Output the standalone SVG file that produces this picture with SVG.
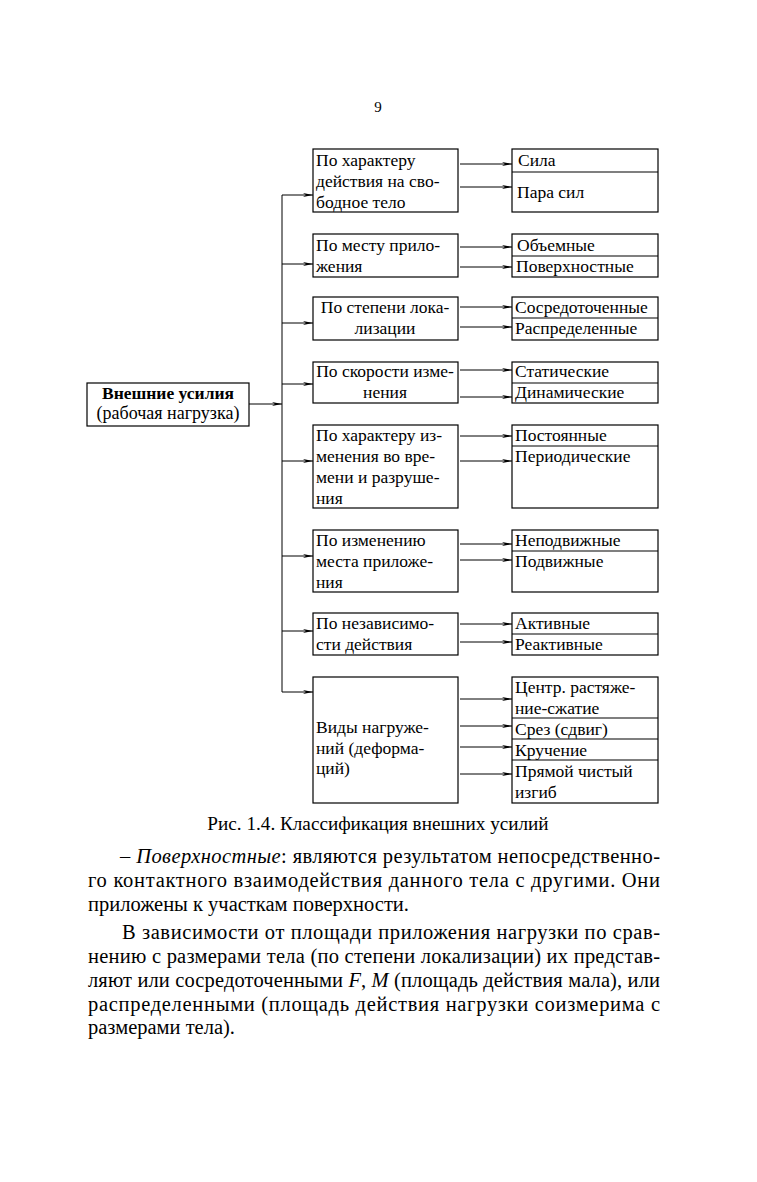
<svg xmlns="http://www.w3.org/2000/svg" width="757" height="1182" viewBox="0 0 757 1182" font-family="'Liberation Serif', 'Times New Roman', serif">
<style>
.d{font-size:17.5px}
.b{font-size:20.5px}
.box{fill:#fff;stroke:#000;stroke-width:1.2}
.dv{stroke:#000;stroke-width:1.2}
.c{stroke:#000;stroke-width:1;fill:none}
.m{text-anchor:middle}
</style>
<defs>
<marker id="ah" markerWidth="10" markerHeight="5" refX="10" refY="2.5" orient="auto" markerUnits="userSpaceOnUse">
<path d="M0,0.6 L10,2.5 L0,4.4 L3,2.5 Z" fill="#000"/>
</marker>
</defs>
<rect width="757" height="1182" fill="#fff"/>
<text x="378" y="112" class="m" font-size="15">9</text>

<g id="connectors">
<line class="c" x1="249" y1="404" x2="282" y2="404" marker-end="url(#ah)"/>
<line class="c" x1="282" y1="195" x2="282" y2="692"/>
<line class="c" x1="282" y1="195" x2="313" y2="195" marker-end="url(#ah)"/>
<line class="c" x1="282" y1="264" x2="313" y2="264" marker-end="url(#ah)"/>
<line class="c" x1="282" y1="323" x2="313" y2="323" marker-end="url(#ah)"/>
<line class="c" x1="282" y1="384" x2="313" y2="384" marker-end="url(#ah)"/>
<line class="c" x1="282" y1="461" x2="313" y2="461" marker-end="url(#ah)"/>
<line class="c" x1="282" y1="556" x2="313" y2="556" marker-end="url(#ah)"/>
<line class="c" x1="282" y1="631" x2="313" y2="631" marker-end="url(#ah)"/>
<line class="c" x1="282" y1="692" x2="313" y2="692" marker-end="url(#ah)"/>
<line class="c" x1="460" y1="164" x2="512" y2="164" marker-end="url(#ah)"/>
<line class="c" x1="460" y1="187" x2="512" y2="187" marker-end="url(#ah)"/>
<line class="c" x1="460" y1="247" x2="512" y2="247" marker-end="url(#ah)"/>
<line class="c" x1="460" y1="267" x2="512" y2="267" marker-end="url(#ah)"/>
<line class="c" x1="460" y1="307" x2="512" y2="307" marker-end="url(#ah)"/>
<line class="c" x1="460" y1="327" x2="512" y2="327" marker-end="url(#ah)"/>
<line class="c" x1="460" y1="370" x2="512" y2="370" marker-end="url(#ah)"/>
<line class="c" x1="460" y1="397" x2="512" y2="397" marker-end="url(#ah)"/>
<line class="c" x1="460" y1="436" x2="512" y2="436" marker-end="url(#ah)"/>
<line class="c" x1="460" y1="461" x2="512" y2="461" marker-end="url(#ah)"/>
<line class="c" x1="460" y1="544" x2="512" y2="544" marker-end="url(#ah)"/>
<line class="c" x1="460" y1="560" x2="512" y2="560" marker-end="url(#ah)"/>
<line class="c" x1="460" y1="624" x2="512" y2="624" marker-end="url(#ah)"/>
<line class="c" x1="460" y1="642" x2="512" y2="642" marker-end="url(#ah)"/>
<line class="c" x1="460" y1="699" x2="512" y2="699" marker-end="url(#ah)"/>
<line class="c" x1="460" y1="726" x2="512" y2="726" marker-end="url(#ah)"/>
<line class="c" x1="460" y1="747" x2="512" y2="747" marker-end="url(#ah)"/>
<line class="c" x1="460" y1="774" x2="512" y2="774" marker-end="url(#ah)"/>
</g>

<g id="root">
<rect class="box" x="87" y="383" width="162" height="43"/>
<text x="168" y="399" class="d m" font-weight="bold">Внешние усилия</text>
<text x="168" y="419" class="m" font-size="18">(рабочая нагрузка)</text>
</g>

<g id="n1">
<rect class="box" x="313" y="149" width="145" height="63"/>
<text class="d" x="316" y="166">По характеру</text>
<text class="d" x="316" y="187">действия на сво-</text>
<text class="d" x="316" y="208">бодное тело</text>
</g>
<g id="n1r">
<rect class="box" x="512" y="149" width="146" height="63"/>
<line class="dv" x1="512" y1="172" x2="658" y2="172"/>
<text class="d" x="518" y="166">Сила</text>
<text class="d" x="517" y="198">Пара сил</text>
</g>

<g id="n2">
<rect class="box" x="313" y="234" width="145" height="43"/>
<text class="d" x="316" y="251">По месту прило-</text>
<text class="d" x="316" y="272">жения</text>
</g>
<g id="n2r">
<rect class="box" x="512" y="234" width="146" height="43"/>
<line class="dv" x1="512" y1="256" x2="658" y2="256"/>
<text class="d" x="517" y="251">Объемные</text>
<text class="d" x="516" y="272">Поверхностные</text>
</g>

<g id="n3">
<rect class="box" x="313" y="297" width="145" height="43"/>
<text class="d m" x="385" y="313">По степени лока-</text>
<text class="d m" x="385" y="334">лизации</text>
</g>
<g id="n3r">
<rect class="box" x="512" y="297" width="146" height="43"/>
<line class="dv" x1="512" y1="318" x2="658" y2="318"/>
<text class="d" x="515" y="313">Сосредоточенные</text>
<text class="d" x="515" y="334">Распределенные</text>
</g>

<g id="n4">
<rect class="box" x="313" y="362" width="145" height="41"/>
<text class="d m" x="385" y="377">По скорости изме-</text>
<text class="d m" x="385" y="398">нения</text>
</g>
<g id="n4r">
<rect class="box" x="512" y="362" width="146" height="41"/>
<line class="dv" x1="512" y1="383" x2="658" y2="383"/>
<text class="d" x="515" y="377">Статические</text>
<text class="d" x="515" y="398">Динамические</text>
</g>

<g id="n5">
<rect class="box" x="313" y="425" width="145" height="83"/>
<text class="d" x="316" y="441">По характеру из-</text>
<text class="d" x="316" y="462">менения во вре-</text>
<text class="d" x="316" y="483">мени и разруше-</text>
<text class="d" x="316" y="504">ния</text>
</g>
<g id="n5r">
<rect class="box" x="512" y="425" width="146" height="83"/>
<line class="dv" x1="512" y1="446" x2="658" y2="446"/>
<text class="d" x="515" y="441">Постоянные</text>
<text class="d" x="515" y="462">Периодические</text>
</g>

<g id="n6">
<rect class="box" x="313" y="530" width="145" height="62"/>
<text class="d" x="316" y="546">По изменению</text>
<text class="d" x="316" y="567">места приложе-</text>
<text class="d" x="316" y="588">ния</text>
</g>
<g id="n6r">
<rect class="box" x="512" y="530" width="146" height="62"/>
<line class="dv" x1="512" y1="551" x2="658" y2="551"/>
<text class="d" x="515" y="546">Неподвижные</text>
<text class="d" x="515" y="567">Подвижные</text>
</g>

<g id="n7">
<rect class="box" x="313" y="613" width="145" height="42"/>
<text class="d" x="316" y="629">По независимо-</text>
<text class="d" x="316" y="650">сти действия</text>
</g>
<g id="n7r">
<rect class="box" x="512" y="613" width="146" height="42"/>
<line class="dv" x1="512" y1="634" x2="658" y2="634"/>
<text class="d" x="515" y="629">Активные</text>
<text class="d" x="515" y="650">Реактивные</text>
</g>

<g id="n8">
<rect class="box" x="313" y="677" width="145" height="126"/>
<text class="d" x="316" y="733">Виды нагруже-</text>
<text class="d" x="316" y="754">ний (деформа-</text>
<text class="d" x="316" y="774">ций)</text>
</g>
<g id="n8r">
<rect class="box" x="512" y="677" width="146" height="126"/>
<line class="dv" x1="512" y1="718" x2="658" y2="718"/>
<line class="dv" x1="512" y1="739" x2="658" y2="739"/>
<line class="dv" x1="512" y1="760" x2="658" y2="760"/>
<text class="d" x="515" y="693">Центр. растяже-</text>
<text class="d" x="515" y="714">ние-сжатие</text>
<text class="d" x="515" y="735">Срез (сдвиг)</text>
<text class="d" x="515" y="756">Кручение</text>
<text class="d" x="515" y="777">Прямой чистый</text>
<text class="d" x="515" y="798">изгиб</text>
</g>

<text class="m" x="378" y="830" font-size="19.2">Рис. 1.4. Классификация внешних усилий</text>

<text class="b" x="120" y="863" textLength="540" lengthAdjust="spacing">– <tspan font-style="italic">Поверхностные</tspan>: являются результатом непосредственно-</text>
<text class="b" x="88" y="887" textLength="572" lengthAdjust="spacing">го контактного взаимодействия данного тела с другими. Они</text>
<text class="b" x="88" y="911">приложены к участкам поверхности.</text>
<text class="b" x="122" y="939" textLength="538" lengthAdjust="spacing">В зависимости от площади приложения нагрузки по срав-</text>
<text class="b" x="88" y="963" textLength="572" lengthAdjust="spacing">нению с размерами тела (по степени локализации) их представ-</text>
<text class="b" x="88" y="987" textLength="572" lengthAdjust="spacing">ляют или сосредоточенными <tspan font-style="italic">F</tspan>, <tspan font-style="italic">M</tspan> (площадь действия мала), или</text>
<text class="b" x="88" y="1011" textLength="572" lengthAdjust="spacing">распределенными (площадь действия нагрузки соизмерима с</text>
<text class="b" x="88" y="1034">размерами тела).</text>
</svg>
